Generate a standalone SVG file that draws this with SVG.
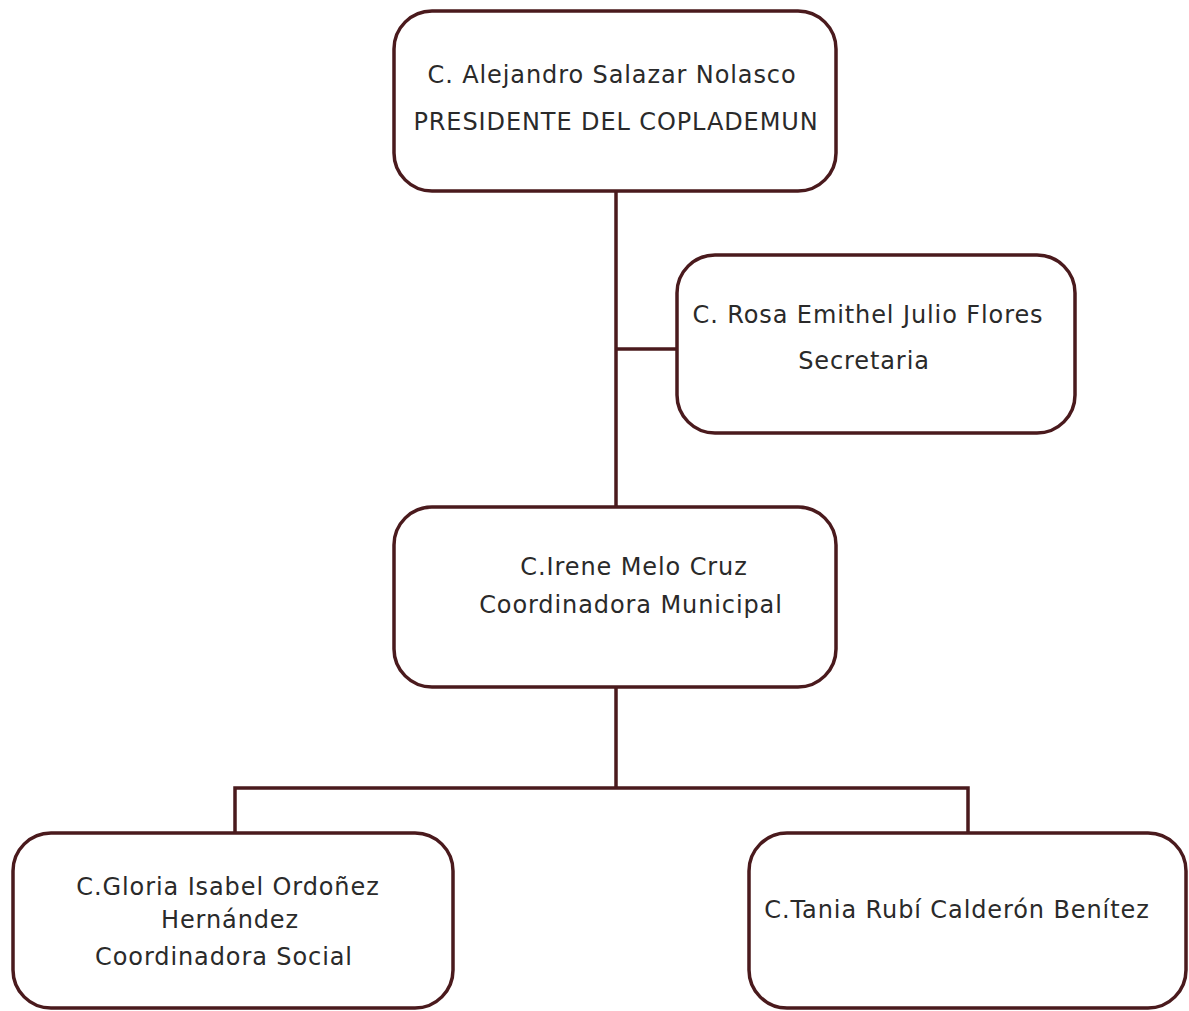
<svg xmlns="http://www.w3.org/2000/svg" width="1189" height="1011" viewBox="0 0 1189 1011">
<style>
.box{fill:#ffffff;stroke:#4a1a1d;stroke-width:3.5}
.ln{fill:none;stroke:#4a1a1d;stroke-width:3.5}
text{font-family:"DejaVu Sans","Liberation Sans",sans-serif;font-size:24px;letter-spacing:0.9px;fill:#2a2a2a;text-anchor:middle}
</style>
<rect width="1189" height="1011" fill="#ffffff"/>
<g id="connectors">
<line class="ln" x1="616" y1="190" x2="616" y2="508"/>
<line class="ln" x1="616" y1="349" x2="677" y2="349"/>
<line class="ln" x1="616" y1="687" x2="616" y2="788"/>
<polyline class="ln" points="235,833 235,788 968,788 968,833"/>
</g>
<g id="n1"><rect class="box" x="394" y="11" width="442" height="180" rx="38"/>
<text x="612" y="83">C. Alejandro Salazar Nolasco</text>
<text x="616" y="130">PRESIDENTE DEL COPLADEMUN</text></g>
<g id="n2"><rect class="box" x="677" y="255" width="398" height="178" rx="38"/>
<text x="868" y="323">C. Rosa Emithel Julio Flores</text>
<text x="864" y="369">Secretaria</text></g>
<g id="n3"><rect class="box" x="394" y="507" width="442" height="180" rx="38"/>
<text x="634" y="575">C.Irene Melo Cruz</text>
<text x="631" y="613">Coordinadora Municipal</text></g>
<g id="n4"><rect class="box" x="13" y="833" width="440" height="175" rx="38"/>
<text x="228" y="895">C.Gloria Isabel Ordoñez</text>
<text x="230" y="928">Hernández</text>
<text x="224" y="965">Coordinadora Social</text></g>
<g id="n5"><rect class="box" x="749" y="833" width="437" height="175" rx="38"/>
<text x="957" y="918">C.Tania Rubí Calderón Benítez</text></g>
</svg>
